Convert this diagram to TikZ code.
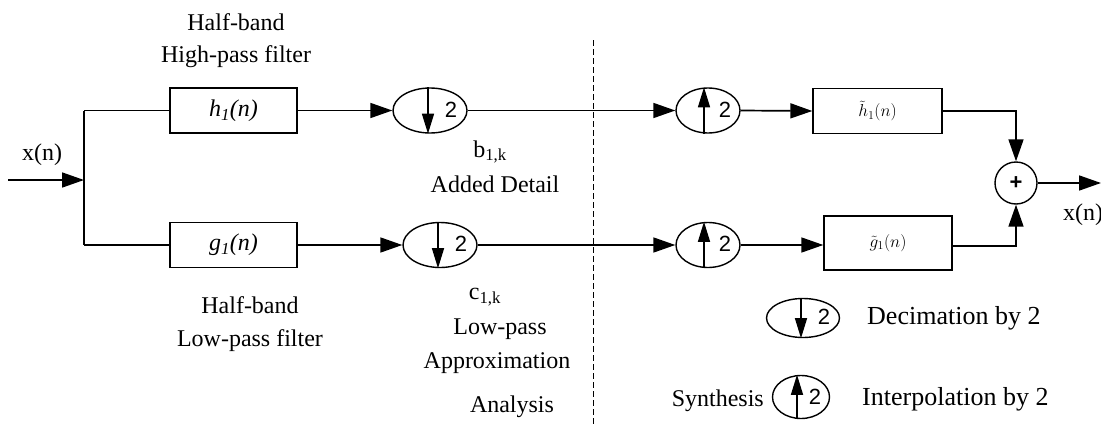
\documentclass[tikz,border=0pt]{standalone}
\usepackage{fontspec}
\setmainfont{Liberation Serif}
\newfontfamily\arialfont{Liberation Sans}
\usetikzlibrary{arrows.meta,shapes.geometric,calc}
\tikzset{
  wire/.style={line width=1.7pt},
  arr/.style={wire,-{Triangle[length=22pt,width=15pt]}},
  inarr/.style={line width=1.4pt,-{Triangle[length=20pt,width=12pt]}},
  filt/.style={draw,line width=1.4pt,rectangle,inner sep=0pt,minimum width=127pt,minimum height=45pt,font=\fontsize{24}{28}\selectfont\itshape},
  sfilt/.style={draw,line width=1.4pt,rectangle,inner sep=0pt,font=\fontsize{18}{21}\selectfont},
  rate/.style={draw,line width=1.4pt,ellipse,inner sep=0pt,minimum width=74pt,minimum height=45pt},
  lbl/.style={font=\fontsize{24}{28}\selectfont,inner sep=0pt,align=center},
  leg/.style={font=\fontsize{26}{30}\selectfont,inner sep=0pt},
  two/.style={font=\arialfont\fontsize{22}{24}\selectfont,inner sep=0pt}
}
\newcommand{\downmark}[1]{%
  \draw[inarr] ($(#1.north)+(-2pt,0)$) -- ($(#1.south)+(-2pt,0)$);
  \node[two] at ($(#1.center)+(21pt,1pt)$) {2};}
\newcommand{\upmark}[1]{%
  \draw[inarr] ($(#1.south)+(-4pt,0)$) -- ($(#1.north)+(-4pt,0)$);
  \node[two] at ($(#1.center)+(17pt,1pt)$) {2};}
\begin{document}
\begin{tikzpicture}[x=1pt,y=-1pt]
\useasboundingbox (0,0) rectangle (1101,426);
% dashed divider
\coordinate (dtop) at (593,40);
\coordinate (dbot) at (593,426);
\draw[line width=1pt,dash pattern=on 6pt off 3pt] (dtop) -- (dbot);

% analysis blocks
\node[filt] (h1) at (233.5,110.5) {h\textsubscript{1}(n)};
\node[filt] (g1) at (233.5,245) {g\textsubscript{1}(n)};
\node[rate] (d1) at (430,110.5) {};
\node[rate] (d2) at (440,245) {};
\downmark{d1}
\downmark{d2}

% synthesis blocks
\node[rate,minimum width=64pt] (u1) at (708,110.5) {};
\node[rate,minimum width=64pt] (u2) at (708,245) {};
\upmark{u1}
\upmark{u2}
\node[sfilt,minimum width=129pt,minimum height=45pt] (hs) at (877.5,111) {$\tilde{h}_{1}(n)$};
\node[sfilt,minimum width=128pt,minimum height=54pt] (gs) at (888,243) {$\tilde{g}_{1}(n)$};
\node[draw,circle,line width=1.4pt,minimum size=42pt,inner sep=0pt,font=\arialfont\bfseries\fontsize{22}{24}\selectfont] (sum) at (1016,183) {+};

% input split
\coordinate (xin) at (8,180);
\coordinate (split) at (84,180);
\coordinate (stop) at (84,110.5);
\coordinate (sbot) at (84,245);
\coordinate (xout) at (1101,183);
\draw[arr] (xin) -- (split);
\draw[wire] (stop) -- (sbot);
\draw[wire] (stop) -- (h1.west);
\draw[wire] (sbot) -- (g1.west);
\draw[arr] (h1.east) -- (d1.west);
\draw[arr] (g1.east) -- (d2.west);
\draw[arr] (d1.east) -- (u1.west);
\draw[arr] (d2.east) -- (u2.west);
\draw[arr] (u1.east) -- (hs.west);
\draw[arr] (u2.east) -- (u2.east -| gs.west);
\draw[arr] (hs.east) -| (sum.north);
\draw[arr] (gs.east |- 0,246) -| (sum.south);
\draw[arr] (sum.east) -- (xout);

% labels
\node[lbl] (tHB) at (236,22) {Half-band};
\node[lbl] (tHP) at (236,57) {High-pass filter};
\node[lbl] (lxin) at (42,155) {x(n)};
\node[lbl] (lb) at (490,152) {b\textsubscript{1,k}};
\node[lbl] (lAD) at (495,184) {Added Detail};
\node[lbl] (bHB) at (250,305) {Half-band};
\node[lbl] (bLP) at (250,341) {Low-pass filter};
\node[lbl] (lc) at (485,297) {c\textsubscript{1,k}};
\node[lbl] (lLP) at (500,329) {Low-pass};
\node[lbl] (lAp) at (497,363) {Approximation};
\node[lbl] (lAn) at (512,407) {Analysis};
\node[lbl] (lxout) at (1083,215) {x(n)};

% legend
\node[rate,minimum width=73pt,minimum height=39pt] (legd) at (803,318) {};
\downmark{legd}
\node[rate,minimum width=57pt,minimum height=43pt] (legu) at (801,397) {};
\draw[inarr] ($(legu.south)+(-4pt,0)$) -- ($(legu.north)+(-4pt,0)$);
\node[two] at ($(legu.center)+(14pt,0pt)$) {2};
\node[leg,anchor=west] (lDec) at (867,318) {Decimation by 2};
\node[leg,anchor=west] (lInt) at (862,399) {Interpolation by 2};
\node[lbl,anchor=east] (lSyn) at (764,401) {Synthesis};
\end{tikzpicture}
\end{document}
